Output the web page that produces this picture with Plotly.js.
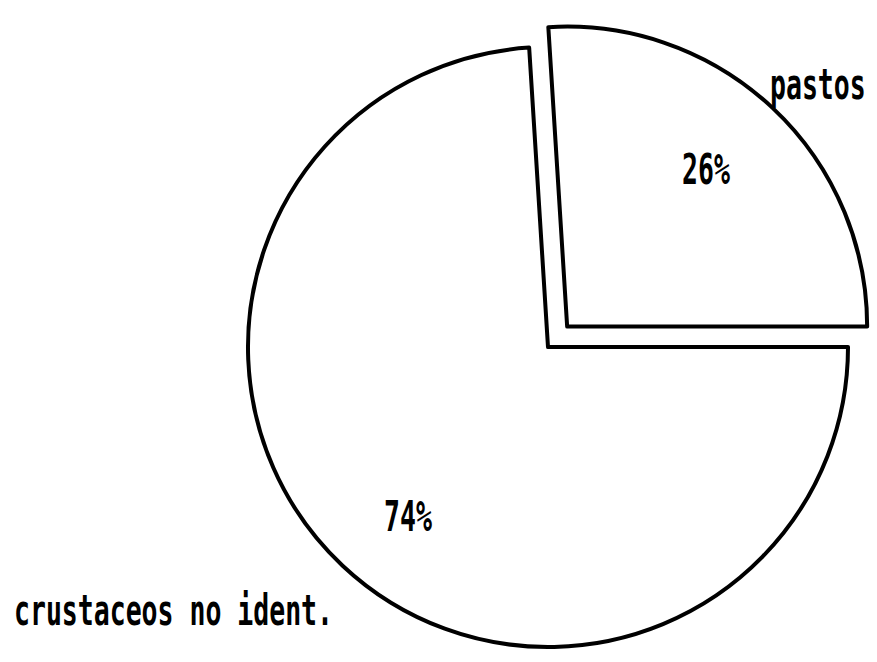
<!DOCTYPE html>
<html>
<head>
<meta charset="utf-8">
<script src="https://cdn.plot.ly/plotly-3.0.1.min.js"></script>
<style>
  html, body { margin: 0; padding: 0; background: #ffffff; overflow: hidden; }
  #chart { width: 877px; height: 680px; }
  .annotation-text { transform-box: fill-box; transform-origin: 50% 50%; transform: scaleY(1.6); }
</style>
</head>
<body>
<div id="chart"></div>
<script>
// ---- data ----
const labels = ["pastos", "crustaceos no ident."];
const values = [26, 74];
const pulls = [0.0933, 0];

// ---- layout constants ----
const W = 877, H = 680;
const total = values.reduce((a, b) => a + b, 0);
const pctText = values.map(v => Math.round(v / total * 100) + "%");

// label positions in page pixels
const namePos = [[768, 83, "left"], [12, 609, "left"]];
const pctPos = [[706, 168], [408, 515]];

const font = { family: "DejaVu Sans Mono", size: 26.5, color: "#000000", weight: "bold" };

const annotations = [];
labels.forEach((lab, i) => {
  annotations.push({
    text: lab, xref: "paper", yref: "paper",
    x: namePos[i][0] / W, y: 1 - namePos[i][1] / H,
    xanchor: namePos[i][2], yanchor: "middle",
    showarrow: false, font: font
  });
  annotations.push({
    text: pctText[i], xref: "paper", yref: "paper",
    x: pctPos[i][0] / W, y: 1 - pctPos[i][1] / H,
    xanchor: "center", yanchor: "middle",
    showarrow: false, font: font
  });
});

const trace = {
  type: "pie",
  labels: labels,
  values: values,
  pull: pulls,
  sort: false,
  direction: "clockwise",
  rotation: -3.6,
  textinfo: "none",
  hoverinfo: "none",
  marker: { colors: ["#ffffff", "#ffffff"], line: { color: "#000000", width: 4 } },
  domain: { x: [220 / W, 876 / W], y: [(H - 675) / H, (H - 19) / H] }
};

const layout = {
  width: W, height: H,
  margin: { l: 0, r: 0, t: 0, b: 0 },
  paper_bgcolor: "#ffffff",
  plot_bgcolor: "#ffffff",
  showlegend: false,
  annotations: annotations
};

Plotly.newPlot("chart", [trace], layout, { staticPlot: true, displayModeBar: false });
</script>
</body>
</html>
